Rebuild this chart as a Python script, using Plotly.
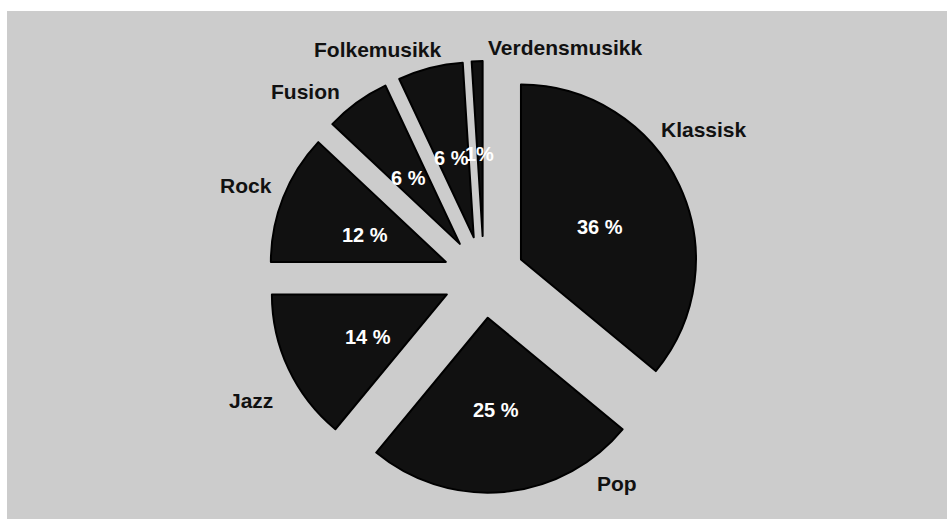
import math
import plotly.graph_objects as go

# Music genre shares (percent)
genres = ["Klassisk", "Pop", "Jazz", "Rock", "Fusion", "Folkemusikk", "Verdensmusikk"]
shares = [36, 25, 14, 12, 6, 6, 1]
share_text = ["36 %", "25 %", "14 %", "12 %", "6 %", "6 %", "1%"]

# Genre label anchors in pixels (x, y from top-left)
label_px = [(704, 129), (617, 483), (251, 400), (246, 186),
            (305, 91), (378, 50), (565, 48)]

W, H = 947, 519
PULL = 0.234
DOM_X = [0.283, 0.739]
DOM_Y = [0.0501, 0.8825]

fig = go.Figure(
    go.Pie(
        labels=genres,
        values=shares,
        sort=False,
        direction="clockwise",
        rotation=0,
        pull=[PULL] * len(shares),
        marker=dict(colors=["#111111"] * len(shares),
                    line=dict(color="#000000", width=2)),
        textinfo="none",
        hoverinfo="label+percent",
        domain=dict(x=DOM_X, y=DOM_Y),
    )
)

# Pie geometry in pixels, following plotly's own layout rule
box_w = W * (DOM_X[1] - DOM_X[0])
box_h = H * (DOM_Y[1] - DOM_Y[0])
radius = min(box_w, box_h) / (2 + 2 * PULL)
cx = W * (DOM_X[0] + DOM_X[1]) / 2
cy = H * (1 - DOM_Y[0]) - box_h / 2

annotations = []
total = sum(shares)
start = 0.0
dist = radius * (PULL + 0.5)
for txt, v in zip(share_text, shares):
    span = 360.0 * v / total
    mid = math.radians(start + span / 2)
    start += span
    px = cx + dist * math.sin(mid)
    py = cy - dist * math.cos(mid)
    annotations.append(dict(
        x=px / W, y=1 - py / H, xref="paper", yref="paper",
        text=txt, showarrow=False, xanchor="center", yanchor="middle",
        yshift=-5,
        font=dict(family="Liberation Sans, Arial, sans-serif", size=20,
                  color="#ffffff", weight="bold"),
    ))

for name, (lx, ly) in zip(genres, label_px):
    annotations.append(dict(
        x=lx / W, y=1 - ly / H, xref="paper", yref="paper",
        text=name, showarrow=False, xanchor="center", yanchor="middle",
        font=dict(family="Liberation Sans, Arial, sans-serif", size=21,
                  color="#111111", weight="bold"),
    ))

fig.update_layout(
    width=W, height=H,
    margin=dict(l=0, r=0, t=0, b=0),
    paper_bgcolor="#ffffff",
    showlegend=False,
    annotations=annotations,
    shapes=[dict(type="rect", xref="paper", yref="paper",
                 x0=7 / W, x1=1, y0=0, y1=1 - 11 / H,
                 fillcolor="#cccccc", line=dict(width=0), layer="below")],
)

fig.write_html("out.html")
